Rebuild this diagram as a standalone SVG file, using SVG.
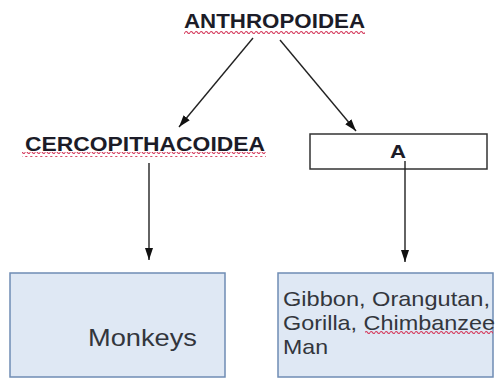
<svg xmlns="http://www.w3.org/2000/svg" width="496" height="378" viewBox="0 0 496 378">
<style>
.b{font-family:"Liberation Sans",Arial,sans-serif;font-weight:bold;fill:#1c1c28}
.n{font-family:"Liberation Sans",Arial,sans-serif;fill:#33363d}
.box{fill:#dfe8f4;stroke:#6f8cb4;stroke-width:1.5}
.abox{fill:#fff;stroke:#333;stroke-width:1.5}
.c{stroke:#222;stroke-width:1.4;fill:none;marker-end:url(#ah)}
.w{fill:url(#wave)}
</style>
<defs>
<marker id="ah" markerWidth="12" markerHeight="8" refX="12" refY="4" orient="auto" markerUnits="userSpaceOnUse">
<path d="M0,0 L12,4 L0,8 z" fill="#111"/>
</marker>
<pattern id="wave" patternUnits="userSpaceOnUse" width="5" height="5">
<path d="M0,2.5 Q1.25,0.5 2.5,2.5 T5,2.5" fill="none" stroke="#d43a5c" stroke-width="1.2"/>
</pattern>
</defs>
<rect width="496" height="378" fill="#fff"/>
<g id="anthropoidea">
<text class="b" x="184" y="28" font-size="20" textLength="181" lengthAdjust="spacingAndGlyphs">ANTHROPOIDEA</text>
<rect class="w" x="184" y="29" width="181" height="5"/>
</g>
<g id="cercopithacoidea">
<text class="b" x="25" y="151" font-size="20" textLength="240" lengthAdjust="spacingAndGlyphs">CERCOPITHACOIDEA</text>
<rect class="w" x="22" y="152" width="244" height="5"/>
</g>
<g id="a">
<rect class="abox" x="310" y="134" width="177" height="35"/>
<text class="b" x="390" y="158" font-size="18" textLength="16" lengthAdjust="spacingAndGlyphs">A</text>
</g>
<g id="monkeys">
<rect class="box" x="10" y="273" width="215" height="104"/>
<text class="n" x="88" y="346" font-size="24" textLength="109" lengthAdjust="spacingAndGlyphs">Monkeys</text>
</g>
<g id="apes">
<rect class="box" x="278" y="273" width="215" height="104"/>
<text class="n" x="283" y="306" font-size="21" textLength="207" lengthAdjust="spacingAndGlyphs">Gibbon, Orangutan,</text>
<text class="n" x="283" y="330" font-size="21" textLength="212" lengthAdjust="spacingAndGlyphs">Gorilla, Chimbanzee</text>
<rect class="w" x="365" y="331" width="128" height="5"/>
<text class="n" x="283" y="354" font-size="21" textLength="45" lengthAdjust="spacingAndGlyphs">Man</text>
</g>
<g id="connectors">
<line class="c" x1="253" y1="38" x2="179" y2="127"/>
<line class="c" x1="280" y1="40" x2="356" y2="131"/>
<line class="c" x1="149" y1="163" x2="149" y2="260"/>
<line class="c" x1="405" y1="161" x2="405" y2="262"/>
</g>
</svg>
